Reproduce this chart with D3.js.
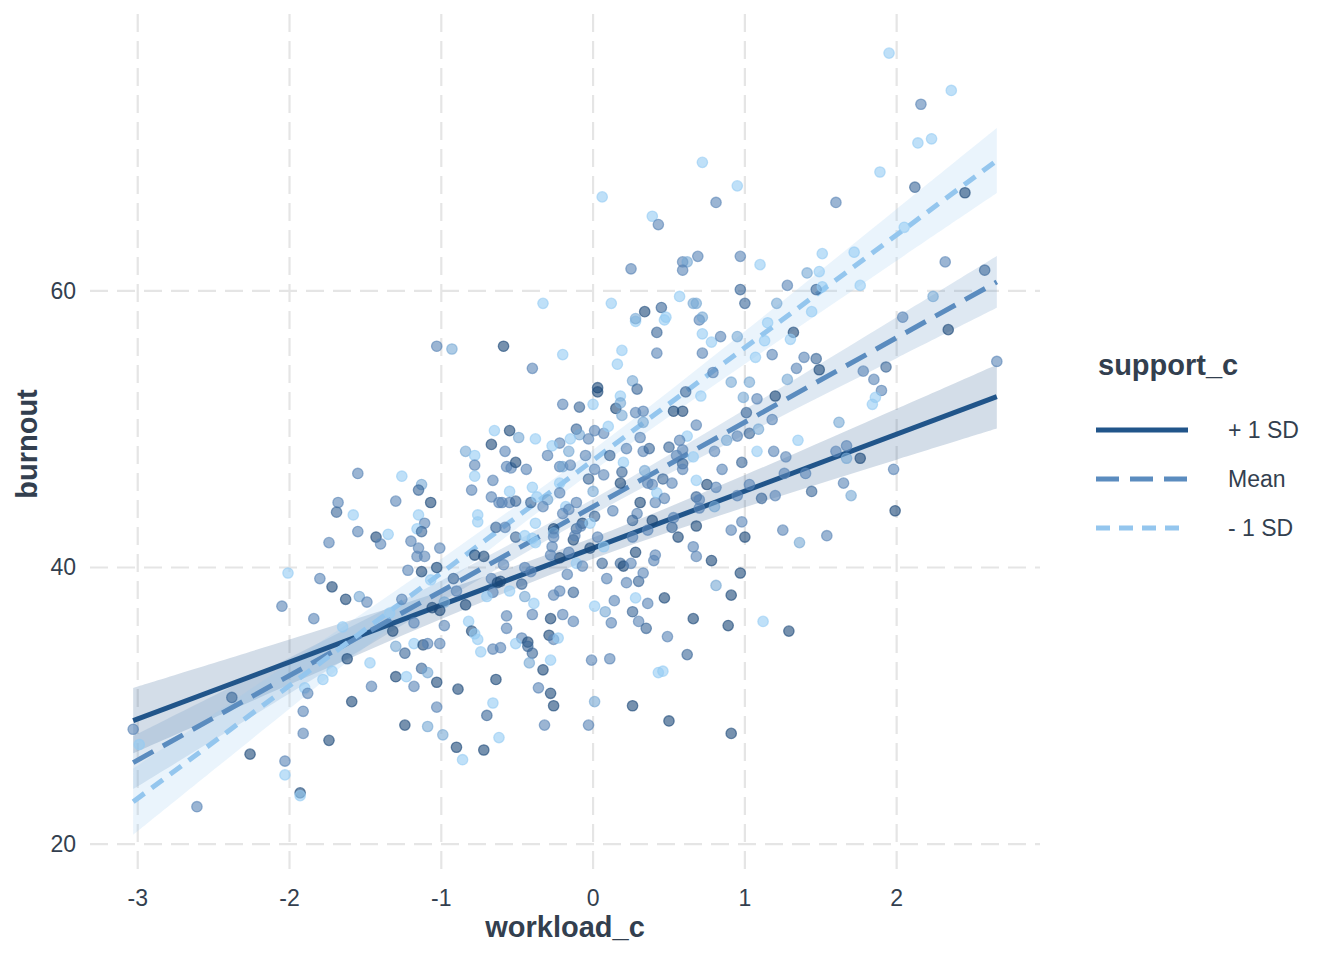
<!DOCTYPE html>
<html>
<head>
<meta charset="utf-8">
<script src="https://cdn.jsdelivr.net/npm/d3@7"></script>
<style>
body { margin: 0; background: #fff; }
text { font-family: "Liberation Sans", Arial, sans-serif; }
</style>
</head>
<body>
<script>
var width = 1344, height = 960;

// axis ticks
var xTicks = [-3, -2, -1, 0, 1, 2];
var yTicks = [20, 40, 60];

// moderator levels (legend order)
var levels = ["+ 1 SD", "Mean", "- 1 SD"];
var lineColors = ["#21558a", "#5b8cbf", "#94c6ee"];
var dashes = [null, "23,11", "14,9"];

// fitted lines + confidence bands
var bandX   = [-3.03, -2, -1, 0, 1, 2, 2.66];
var fitPlus = [28.92, 33.16, 37.28, 41.40, 45.52, 49.64, 52.36];
var loPlus  = [26.55, 31.53, 36.28, 40.64, 44.35, 47.80, 50.05];
var hiPlus  = [31.29, 34.79, 38.28, 42.16, 46.69, 51.48, 54.67];
var fitMean = [25.89, 32.18, 38.29, 44.40, 50.51, 56.62, 60.65];
var loMean  = [23.97, 30.88, 37.52, 43.84, 49.59, 55.14, 58.78];
var hiMean  = [27.81, 33.48, 39.06, 44.96, 51.43, 58.10, 62.52];
var fitMinus = [23.06, 31.45, 39.60, 47.75, 55.90, 64.05, 69.43];
var loMinus  = [20.66, 29.79, 38.58, 46.98, 54.71, 62.18, 67.08];
var hiMinus  = [25.46, 33.11, 40.62, 48.52, 57.09, 65.92, 71.78];

// observations: [workload_c, burnout, support_c shade (-1 low .. 1 high)]
var obs = [
[-1.68,44.7,0],[-1.69,44.0,0.5],[-1.74,41.8,0],[-2.01,39.6,-1],[-1.80,39.2,0],[-1.72,38.6,1],
[-2.05,37.2,0],[-1.84,36.3,0],[-1.72,32.5,-1],[-1.78,31.9,-1],[-1.90,31.3,-1],[-1.88,30.9,0],
[-2.38,30.6,0.5],[-1.91,29.6,0],[-3.03,28.3,0],[-2.99,27.2,-1],[-1.91,28.0,0],[-1.74,27.5,1],
[-2.26,26.5,1],[-2.03,26.0,0],[-2.03,25.0,-1],[-1.93,23.7,1],[-1.93,23.5,-1],[-2.61,22.7,0],
[-1.03,56.0,0],[-0.93,55.8,-0.5],[-0.59,56.0,1],[-0.65,49.9,-1],[-0.67,48.9,1],[-0.84,48.4,-0.5],
[-0.78,48.1,-1],[-0.78,47.4,0],[-0.78,46.6,-1],[-0.66,46.3,0],[-1.55,46.8,0],[-1.26,46.6,-1],
[-1.13,46.0,-0.5],[-1.15,45.6,0.5],[-0.80,45.6,0],[-1.30,44.8,0],[-1.07,44.7,1],[-0.67,45.1,0],
[-0.62,44.7,0],[-1.58,43.8,-1],[-1.15,43.8,-1],[-0.76,43.8,-1],[-0.76,43.3,-1],[-1.11,43.2,0],
[-1.16,42.8,-1],[-1.13,42.6,0.5],[-1.55,42.6,0],[-1.43,42.2,1],[-1.35,42.4,-1],[-1.40,41.7,0],
[-1.20,41.9,0],[-1.15,41.4,0],[-1.01,41.4,0],[-0.64,42.9,0.5],[-0.78,40.9,1],[-0.72,40.8,1],
[-1.11,40.8,0],[-1.16,40.8,0],[-1.22,39.8,0],[-1.13,39.7,1],[-1.03,40.0,1],[-1.07,39.1,-1],
[-0.92,39.2,0.5],[-0.90,38.3,0],[-1.63,37.7,1],[-1.54,37.9,-0.5],[-1.49,37.5,0],[-1.26,37.7,0],
[-0.84,37.3,1],[-0.98,37.5,-0.5],[-1.01,36.9,1],[-1.06,37.1,1],[-0.67,39.2,0],[-0.63,38.9,1],
[-0.66,38.2,0],[-0.70,37.9,-1],[-1.65,35.7,-1],[-1.32,35.4,1],[-1.18,36.0,0],[-1.34,36.7,-1],
[-0.98,35.8,0],[-0.82,36.1,-1],[-0.80,35.4,1],[-0.78,35.2,-1],[-0.76,34.8,-1],[-0.74,33.9,-1],
[-0.66,34.1,0],[-1.30,34.3,-0.5],[-1.24,33.8,0.5],[-1.18,34.5,-1],[-1.12,34.4,1],[-1.09,34.5,0],
[-1.01,34.5,0],[-1.62,33.4,1],[-1.47,33.1,-1],[-1.13,32.7,0.5],[-1.09,32.4,-0.5],[-1.30,32.1,1],
[-1.23,32.1,-1],[-1.46,31.4,0],[-1.18,31.4,0],[-1.03,31.7,1],[-0.89,31.2,1],[-0.64,31.9,1],
[-1.59,30.3,1],[-1.03,29.9,0],[-0.66,30.2,-1],[-0.70,29.3,0.5],[-1.24,28.6,1],[-1.09,28.5,-0.5],
[-0.99,27.9,-0.5],[-0.62,27.7,-1],[-0.90,27.0,1],[-0.72,26.8,1],[-0.86,26.1,-1],
[-0.20,55.4,-1],[-0.40,54.4,0],[0.28,57.8,-1],[0.42,57.0,0.5],[0.19,55.7,-1],[0.42,55.5,0],
[0.16,54.7,-1],[0.26,53.5,-0.5],[0.29,52.9,0.5],[0.03,53.0,1],[0.03,52.7,1],[-0.20,51.8,0],
[-0.09,51.6,0.5],[0.00,51.8,-1],[0.15,51.5,1],[0.18,52.4,-1],[0.18,51.9,-0.5],[0.19,51.0,-0.5],
[0.28,51.2,0],[0.33,51.3,0],[0.33,50.5,-0.5],[-0.55,49.9,1],[-0.49,49.4,-0.5],[-0.38,49.3,-1],
[-0.11,50.0,0.5],[-0.09,49.6,-0.5],[-0.15,49.3,-1],[0.01,49.9,0],[0.07,49.7,0],[0.10,50.2,-1],
[-0.03,49.3,0],[-0.22,49.0,0],[-0.27,48.8,-1],[-0.16,48.4,-0.5],[-0.58,48.4,0],[-0.30,48.1,0],
[-0.05,48.1,0],[0.11,48.1,0.5],[0.22,48.6,0],[0.31,49.4,0],[0.33,48.4,0],[0.37,48.6,0.5],
[-0.57,47.3,0],[-0.54,47.2,0],[-0.51,47.6,1],[-0.44,47.1,0],[-0.22,47.3,0],[-0.20,47.3,-0.5],
[-0.15,47.4,0],[0.01,47.1,0],[0.20,47.6,-1],[0.19,46.9,0.5],[0.07,46.7,0],[-0.03,46.4,0.5],
[-0.22,46.1,-1],[0.18,46.1,1],[0.34,47.0,-0.5],[0.36,46.1,0],[0.39,46.0,0],[-0.40,45.8,-1],
[-0.22,45.4,0],[0.00,45.5,-0.5],[-0.55,45.5,-1],[-0.60,44.7,0],[-0.55,44.7,0],[-0.51,44.8,0.5],
[-0.41,44.7,0.5],[-0.37,45.1,-1],[-0.30,44.9,-0.5],[-0.33,44.4,0],[-0.18,44.4,-1],[-0.16,44.2,0],
[-0.11,44.7,0],[0.31,44.7,1],[0.29,43.9,0],[0.26,43.4,0.5],[0.39,43.4,1],[0.41,44.7,0],
[0.42,45.4,-1],[0.13,44.1,0],[0.01,43.7,0.5],[-0.20,43.9,0],[-0.38,43.2,-1],[-0.26,42.8,1],
[-0.26,42.5,-0.5],[-0.07,43.2,1],[-0.11,42.8,0.5],[-0.08,43.0,0],[-0.02,43.2,-1],[-0.58,42.9,0],
[-0.51,42.2,0.5],[-0.45,42.3,-1],[-0.40,42.1,-1],[-0.38,41.8,-1],[-0.26,42.2,0],[-0.27,41.5,0],
[-0.13,42.0,1],[-0.12,42.3,0],[0.03,42.2,0],[0.26,42.2,0],[0.36,42.7,0],[0.07,41.5,-1],
[-0.02,41.4,1],[-0.16,41.1,0],[-0.22,40.7,1],[-0.28,40.9,0],[0.28,41.1,1],[0.41,40.9,0],
[-0.59,40.2,0],[-0.45,40.0,0],[-0.41,39.7,0],[-0.11,40.3,-1],[-0.07,40.1,0],[-0.17,39.5,0],
[-0.61,39.0,1],[-0.47,38.8,0.5],[-0.55,38.3,-1],[-0.45,37.9,-0.5],[-0.26,38.0,0],[-0.22,38.3,0],
[-0.13,38.2,0.5],[-0.39,37.4,-1],[0.06,40.3,0.5],[0.18,40.3,0.5],[0.20,40.1,1],[0.25,40.3,0],
[0.09,39.2,0],[0.22,38.9,0],[0.30,39.0,0.5],[0.33,39.6,0],[0.40,40.5,0],[0.14,37.6,0],
[0.28,37.8,-1],[0.36,37.4,0],[0.01,37.2,-1],[0.08,36.8,-0.5],[0.26,36.8,0.5],[0.12,36.0,0],
[0.30,36.1,0],[0.35,35.6,0.5],[-0.57,36.5,0],[-0.40,36.6,0],[-0.28,36.3,1],[-0.20,36.6,0],
[-0.13,36.1,0],[-0.57,35.6,0],[-0.29,35.1,1],[-0.26,34.8,0],[-0.23,34.9,-1],[-0.47,34.9,0],
[-0.51,34.5,-1],[-0.43,34.6,1],[-0.43,34.3,0.5],[-0.40,33.8,0.5],[-0.61,34.2,0],[-0.42,33.1,-0.5],
[-0.28,33.3,-1],[-0.33,32.6,1],[-0.01,33.3,0],[0.11,33.4,0],[0.43,32.4,-1],[-0.36,31.3,0],
[-0.28,30.9,1],[-0.26,30.0,1],[0.01,30.3,-0.5],[0.26,30.0,1],[-0.32,28.6,0],[-0.03,28.6,0],
[0.47,57.9,-1],[0.70,57.9,0],[1.15,57.7,-1],[0.72,56.9,-1],[0.78,56.3,-1],[0.84,56.7,0],
[0.95,56.7,-0.5],[1.13,56.4,-1],[1.32,57.0,1],[1.30,56.5,-1],[0.72,55.5,0],[1.07,55.2,-1],
[1.18,55.4,0],[1.39,55.2,0],[1.47,55.1,0.5],[1.49,54.3,1],[1.34,54.4,0],[0.79,54.1,0],
[0.91,53.4,-0.5],[1.03,53.4,-0.5],[1.28,53.6,-0.5],[0.61,52.7,0.5],[0.71,52.4,-1],[0.99,52.3,-0.5],
[1.08,52.2,0],[1.20,52.4,1],[0.53,51.3,1],[0.59,51.3,1],[1.01,51.2,0.5],[1.18,50.7,0],
[0.68,50.3,0],[0.62,49.5,-1],[0.57,49.2,0],[0.95,49.5,0],[1.03,49.7,0.5],[1.09,50.0,-0.5],
[0.88,49.2,-0.5],[0.50,48.7,0.5],[0.59,48.5,0],[0.55,48.1,0],[0.66,48.0,-1],[0.80,48.4,0],
[1.08,48.4,-1],[1.19,48.4,0],[1.27,48.0,0],[1.35,49.2,-1],[0.59,47.5,0.5],[0.59,47.1,0],
[0.98,47.6,0.5],[0.85,47.1,0],[0.46,46.4,0.5],[0.52,46.1,0],[0.68,46.3,-1],[0.75,46.0,1],
[0.81,45.8,0],[1.03,46.0,0],[1.26,46.8,0],[1.40,46.8,0],[1.44,45.5,0.5],[1.20,45.2,0],
[1.11,45.0,0.5],[0.95,45.2,0],[0.68,45.1,0.5],[0.70,44.9,0],[0.47,45.0,0],[0.80,44.4,-0.5],
[0.70,44.3,0],[0.53,43.6,0],[0.52,42.9,0.5],[0.68,43.0,1],[0.91,42.7,0],[0.98,43.3,0],
[1.00,42.2,1],[0.56,42.2,1],[1.25,42.7,0],[1.36,41.8,-0.5],[0.66,41.5,0],[0.68,40.8,0],
[0.78,40.5,1],[0.97,39.6,1],[0.81,38.7,-0.5],[0.91,38.0,1],[0.47,37.8,1],[0.66,36.3,1],
[0.89,35.8,1],[1.12,36.1,-1],[1.29,35.4,1],[0.49,35.0,0],[0.62,33.7,0.5],[0.46,32.5,-1],
[0.50,28.9,1],[0.91,28.0,1],
[0.72,69.3,-1],[0.95,67.6,-1],[0.06,66.8,-1],[0.81,66.4,0],[0.39,65.4,-1],[0.43,64.8,0],
[0.69,62.5,0],[0.97,62.5,0],[1.10,61.9,-1],[0.59,62.1,0],[0.62,62.1,-0.5],[0.59,61.5,0],
[0.25,61.6,0],[-0.33,59.1,-1],[0.12,59.1,-1],[0.57,59.6,-1],[0.66,59.1,-0.5],[0.68,59.1,-0.5],
[0.97,60.1,0.5],[1.00,59.1,0.5],[0.34,58.5,1],[0.45,58.8,0.5],[0.28,58.0,-0.5],[0.48,58.1,-1],
[0.72,58.1,-0.5],
[1.95,77.2,-1],[2.36,74.5,-1],[2.16,73.5,0],[2.14,70.7,-1],[2.23,71.0,-1],[1.89,68.6,-1],
[2.12,67.5,0.5],[2.45,67.1,1],[1.60,66.4,0],[2.05,64.6,-1],[1.72,62.8,-1],[1.51,62.7,-1],
[1.41,61.3,-0.5],[1.49,61.4,-1],[1.28,60.4,0],[1.47,60.1,0.5],[1.51,60.3,-1],[1.76,60.4,-1],
[2.32,62.1,0],[2.58,61.5,0.5],[1.21,59.1,-0.5],[1.44,58.5,-1],[2.04,58.1,0],[2.24,59.6,-0.5],
[2.34,57.2,1],[1.78,54.2,0],[1.93,54.5,0.5],[1.85,53.6,0],[1.90,52.8,0],[1.86,52.3,-1],
[1.84,51.8,-1],[2.66,54.9,0],[1.62,50.5,-0.5],[1.60,48.4,0],[1.67,48.8,0],[1.67,47.9,-0.5],
[1.76,47.9,1],[1.98,47.1,0],[1.65,46.1,0],[1.70,45.2,-0.5],[1.99,44.1,1],[1.54,42.3,0]
];

var series = [
  {fit: fitPlus, lo: loPlus, hi: hiPlus},
  {fit: fitMean, lo: loMean, hi: hiMean},
  {fit: fitMinus, lo: loMinus, hi: hiMinus}
];

var body = d3.select("body");
var svg = body.append("svg")
  .attr("width", width)
  .attr("height", height);

// ggplot style 5% expansion
function expand(ext) {
  var pad = (ext[1] - ext[0]) * 0.05;
  return [ext[0] - pad, ext[1] + pad];
}
var xExt = d3.extent(obs, function(d) { return d[0]; });
var yAll = obs.map(function(d) { return d[1]; }).concat(loPlus, loMean, loMinus, hiPlus, hiMean, hiMinus);

var x = d3.scaleLinear().domain(expand(xExt)).range([90, 1040]);
var y = d3.scaleLinear().domain(expand(d3.extent(yAll))).range([874, 14]);

var shade = d3.scaleLinear()
  .domain([-1, 0, 1])
  .range(["#94ccf3", "#5883b5", "#1a4878"])
  .clamp(true);

var textCol = "#333f4f";

// grid
var grid = svg.append("g");
grid.selectAll(".gx").data(xTicks).enter().append("line")
  .attr("x1", function(d) { return x(d); })
  .attr("x2", function(d) { return x(d); })
  .attr("y1", y.range()[1]).attr("y2", y.range()[0])
  .attr("stroke", "#e5e5e5").attr("stroke-width", 2.2)
  .attr("stroke-dasharray", "18,9");
grid.selectAll(".gy").data(yTicks).enter().append("line")
  .attr("y1", function(d) { return y(d); })
  .attr("y2", function(d) { return y(d); })
  .attr("x1", x.range()[0]).attr("x2", x.range()[1])
  .attr("stroke", "#e5e5e5").attr("stroke-width", 2.2)
  .attr("stroke-dasharray", "18,9");

// bands
var area = d3.area()
  .x(function(d) { return x(d.x); })
  .y0(function(d) { return y(d.lo); })
  .y1(function(d) { return y(d.hi); })
  .curve(d3.curveCatmullRom);

series.forEach(function(s, i) {
  var pts = bandX.map(function(v, j) { return {x: v, lo: s.lo[j], hi: s.hi[j]}; });
  svg.append("path")
    .attr("d", area(pts))
    .attr("fill", lineColors[i])
    .attr("fill-opacity", 0.2);
});

// fitted lines
var line = d3.line()
  .x(function(d) { return x(d[0]); })
  .y(function(d) { return y(d[1]); });

series.forEach(function(s, i) {
  var pts = [[bandX[0], s.fit[0]], [bandX[bandX.length - 1], s.fit[s.fit.length - 1]]];
  svg.append("path")
    .attr("d", line(pts))
    .attr("fill", "none")
    .attr("stroke", lineColors[i])
    .attr("stroke-width", 5)
    .attr("stroke-dasharray", dashes[i]);
});

// points
svg.append("g").selectAll("circle").data(obs).enter().append("circle")
  .attr("cx", function(d) { return x(d[0]); })
  .attr("cy", function(d) { return y(d[1]); })
  .attr("r", 5.2)
  .attr("fill", function(d) { return shade(d[2]); })
  .attr("fill-opacity", 0.6)
  .attr("stroke", function(d) { return shade(d[2]); })
  .attr("stroke-opacity", 0.6)
  .attr("stroke-width", 1.3);

// tick labels
svg.append("g").selectAll("text").data(xTicks).enter().append("text")
  .attr("x", function(d) { return x(d); })
  .attr("y", 906)
  .attr("text-anchor", "middle")
  .attr("font-size", 23)
  .attr("fill", textCol)
  .text(function(d) { return String(d); });

svg.append("g").selectAll("text").data(yTicks).enter().append("text")
  .attr("x", 76)
  .attr("y", function(d) { return y(d) + 8; })
  .attr("text-anchor", "end")
  .attr("font-size", 23)
  .attr("fill", textCol)
  .text(function(d) { return String(d); });

// axis titles
svg.append("text")
  .attr("x", (x.range()[0] + x.range()[1]) / 2)
  .attr("y", 937)
  .attr("text-anchor", "middle")
  .attr("font-size", 29)
  .attr("font-weight", "bold")
  .attr("fill", textCol)
  .text("workload_c");

svg.append("text")
  .attr("transform", "translate(37," + ((y.range()[0] + y.range()[1]) / 2) + ") rotate(-90)")
  .attr("text-anchor", "middle")
  .attr("font-size", 29)
  .attr("font-weight", "bold")
  .attr("fill", textCol)
  .text("burnout");

// legend
var legend = svg.append("g");
legend.append("text")
  .attr("x", 1098).attr("y", 375)
  .attr("font-size", 29)
  .attr("font-weight", "bold")
  .attr("fill", textCol)
  .text("support_c");

levels.forEach(function(lab, i) {
  var ly = 430 + i * 49;
  legend.append("line")
    .attr("x1", 1096).attr("x2", 1188)
    .attr("y1", ly).attr("y2", ly)
    .attr("stroke", lineColors[i])
    .attr("stroke-width", 5)
    .attr("stroke-dasharray", dashes[i]);
  legend.append("text")
    .attr("x", 1228).attr("y", ly + 8)
    .attr("font-size", 23)
    .attr("fill", textCol)
    .text(lab);
});
</script>
</body>
</html>
